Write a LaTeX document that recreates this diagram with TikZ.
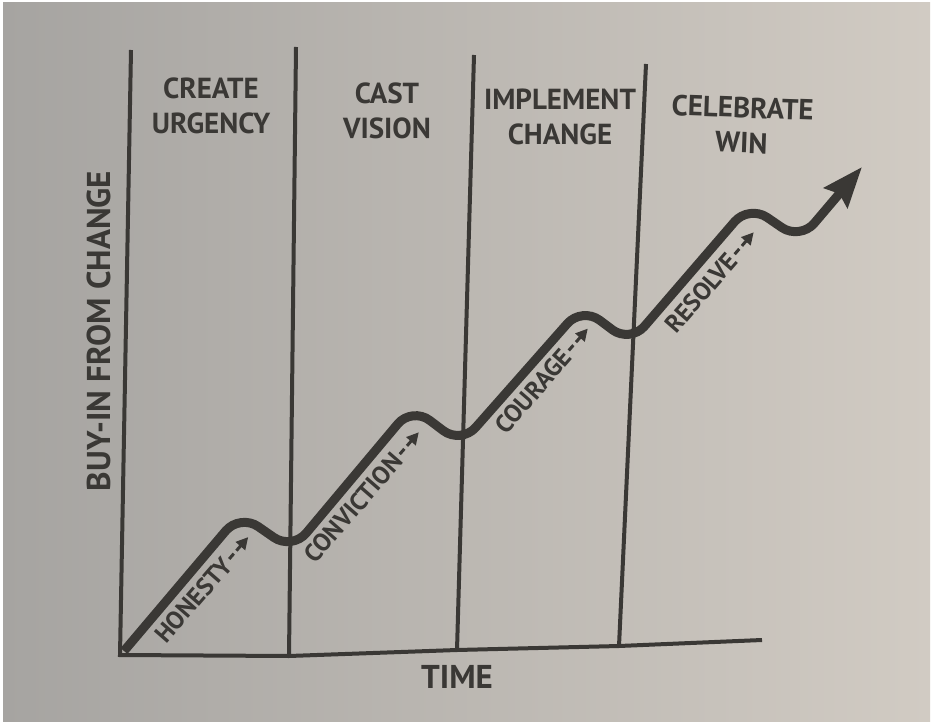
\documentclass[tikz,border=0pt]{standalone}
\usepackage{fontspec}
\setmainfont{PT Sans}
\usepackage{xcolor}
\usetikzlibrary{arrows.meta}
\definecolor{ink}{HTML}{3A3835}
\definecolor{paperdark}{HTML}{A6A4A1}
\definecolor{papermid}{HTML}{C3BFBA}
\definecolor{paperlight}{HTML}{D1CBC3}

\begin{document}
\begin{tikzpicture}[x=1pt,y=1pt,
  axis/.style={draw=ink,line width=4pt},
  axislabel/.style={font=\bfseries\fontsize{33}{33}\selectfont,text=ink},
  phase/.style={font=\bfseries\fontsize{29}{35}\selectfont,text=ink,align=center},
  wave/.style={draw=ink,line width=9pt,rounded corners=22pt,
    -{Stealth[length=40pt,width=30pt,inset=5pt]}},
  quality/.style={font=\bfseries\fontsize{25}{25}\selectfont,text=ink,
    inner sep=0pt,rotate=49,anchor=base west},
  nudge/.style={draw=ink,line width=3pt,dash pattern=on 7pt off 4pt,
    shorten <=3pt,-{Triangle[length=12pt,width=12pt]}}]

  \fill[white] (0,0) rectangle (933,724);
  \shade[left color=paperdark,middle color=papermid,right color=paperlight]
    (3,3) rectangle (930,721);

  \coordinate (h0) at (131,674);
  \coordinate (h1) at (296,677);
  \coordinate (h2) at (474,669);
  \coordinate (h3) at (646,660);
  \coordinate (t0) at (120,69);
  \coordinate (t1) at (289,68);
  \coordinate (t2) at (457,74);
  \coordinate (t3) at (619,78);
  \coordinate (tend) at (762,84);

  \draw[axis] (h0) -- (t0) -- (t1) -- (t2) -- (t3) -- (tend);
  \foreach \i in {1,2,3}
    \draw[axis] (h\i) -- (t\i);

  \node[axislabel,rotate=90] (buyin) at (99,393) {BUY-IN FROM CHANGE};
  \node[axislabel] (time) at (457,47) {TIME};

  \node[phase] (urgency) at (211,618) {CREATE\\URGENCY};
  \node[phase] (vision) at (387,613) {CAST\\VISION};
  \node[phase] (change) at (560,607) {IMPLEMENT\\CHANGE};
  \node[phase,rotate=-2] (win) at (742,599) {CELEBRATE\\WIN};

  \draw[wave] (124,73) -- (240,210) -- (292,174) -- (412,317) -- (461,280)
    -- (582,417) -- (630,381) -- (749,519) -- (800,484) -- (862,557);

  \foreach \name/\word/\x/\y in {honesty/HONESTY/166/79,
      conviction/CONVICTION/315/159, courage/COURAGE/506/288,
      resolve/RESOLVE/676/389}{
    \node[quality] (\name) at (\x,\y) {\word};
    \path (\name.east) ++(49:32) coordinate (\name-tip);
    \draw[nudge] (\name.east) -- (\name-tip);
  }
\end{tikzpicture}
\end{document}
